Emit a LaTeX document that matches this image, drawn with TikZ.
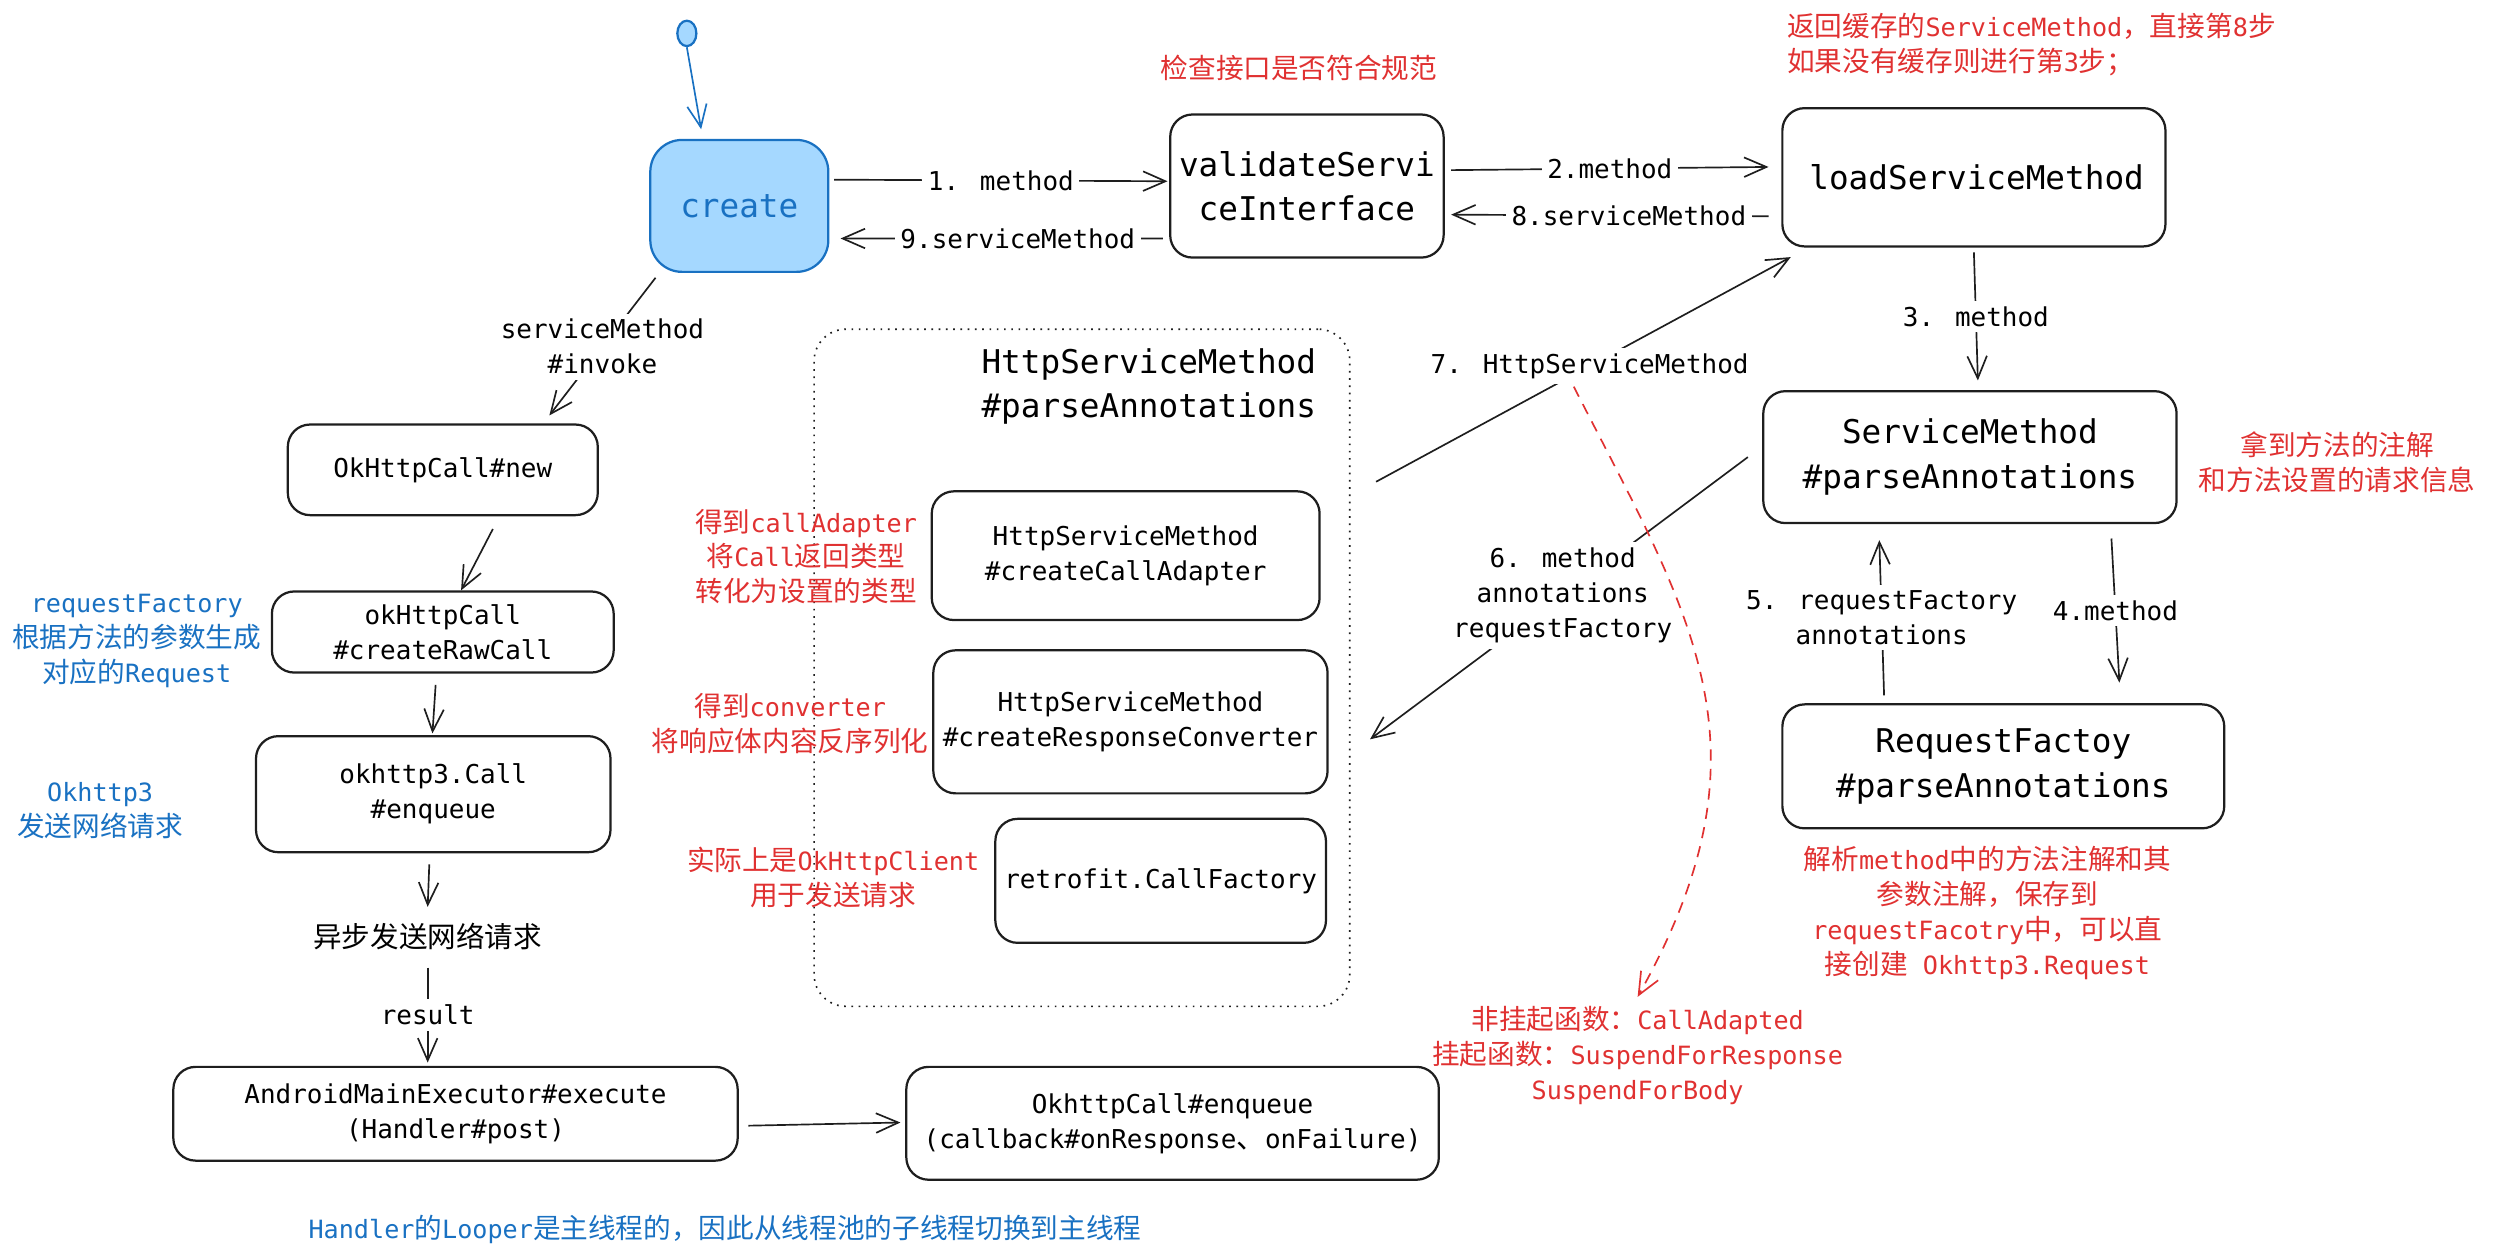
\documentclass[tikz,border=0pt]{standalone}
\usepackage{fontspec}
\setmainfont{DejaVu Sans Mono}
\newfontfamily\cjkfont[Scale=1.1]{Noto Sans CJK SC}
\newcommand\zh[1]{{\cjkfont #1}}
\usetikzlibrary{arrows.meta,calc,shapes.geometric}
\definecolor{inkred}{HTML}{E03131}
\definecolor{inkblue}{HTML}{1971C2}
\definecolor{lightblue}{HTML}{A5D8FF}
\definecolor{ink}{HTML}{1E1E1E}
\begin{document}
\begin{tikzpicture}[x=0.02cm, y=-0.02cm, >={Straight Barb[length=8pt,width=7pt]},
  box/.style={draw=ink, line width=0.8pt, rounded corners=0.28cm, align=center, inner sep=0pt},
  bigtext/.style={font=\fontsize{11.7}{15.9}\selectfont},
  smalltext/.style={font=\fontsize{9.3}{12.5}\selectfont},
  note/.style={font=\fontsize{9}{12.5}\selectfont, align=center, inner sep=1pt},
  link/.style={->, draw=ink, line width=0.6pt},
  tag/.style={smalltext, fill=white, inner sep=2pt, align=center}]
\useasboundingbox (0,0) rectangle (1568,792);

% main chain
\node[ellipse, draw=inkblue, fill=lightblue, line width=0.8pt, minimum width=0.24cm, minimum height=0.32cm, inner sep=0pt] (start) at (432,21) {};
\node[box, draw=inkblue, fill=lightblue, rounded corners=0.4cm, minimum width=2.24cm, minimum height=1.66cm, bigtext, text=inkblue] (create) at (465,129.5) {create};
\node[box, minimum width=3.44cm, minimum height=1.8cm, bigtext] (validate) at (822,117) {validateServi\\ceInterface};
\node[box, minimum width=4.82cm, minimum height=1.74cm, bigtext] (load) at (1241.5,111.5) {\,loadServiceMethod};
\node[box, minimum width=5.2cm, minimum height=1.66cm, bigtext] (svcm) at (1239,287.5) {ServiceMethod\\\#parseAnnotations};
\node[box, minimum width=5.56cm, minimum height=1.56cm, bigtext] (reqf) at (1260,482) {RequestFactoy\\\#parseAnnotations};

% HttpServiceMethod group
\node[draw=ink, dotted, line width=0.6pt, rounded corners=0.4cm, minimum width=6.74cm, minimum height=8.52cm] (group) at (680.5,420) {};
\node[bigtext, anchor=west, align=left, inner sep=0pt] (title) at (617,243) {HttpServiceMethod\\\#parseAnnotations};
\node[box, minimum width=4.88cm, minimum height=1.62cm, smalltext] (adapter) at (708,349.5) {HttpServiceMethod\\\#createCallAdapter};
\node[box, minimum width=4.96cm, minimum height=1.8cm, smalltext] (conv) at (711,454) {HttpServiceMethod\\\#createResponseConverter};
\node[box, minimum width=4.16cm, minimum height=1.56cm, smalltext] (callf) at (730,554) {retrofit.CallFactory};

% left column
\node[box, minimum width=3.9cm, minimum height=1.14cm, smalltext] (okNew) at (278.5,295.5) {OkHttpCall\#new};
\node[box, minimum width=4.3cm, minimum height=1.02cm, smalltext] (rawCall) at (278.5,397.5) {okHttpCall\\\#createRawCall};
\node[box, minimum width=4.46cm, minimum height=1.46cm, smalltext] (enq) at (272.5,499.5) {okhttp3.Call\\\#enqueue};
\node[smalltext] (async) at (269,589) {\zh{异步发送网络请求}};
\node[box, minimum width=7.1cm, minimum height=1.18cm, smalltext] (mainExec) at (286.5,700.5) {AndroidMainExecutor\#execute\\(Handler\#post)};
\node[box, minimum width=6.7cm, minimum height=1.42cm, smalltext] (okEnq) at (737.5,706.5) {OkhttpCall\#enqueue\\(callback\#onResponse\zh{、}onFailure)};

% notes
\node[note, text=inkred] (chk) at (817,43) {\zh{检查接口是否符合规范}};
\node[note, text=inkred, align=left, anchor=west] (cache) at (1122,28) {\zh{返回缓存的}ServiceMethod\zh{，直接第}8\zh{步}\\\zh{如果没有缓存则进行第}3\zh{步；}};
\node[note, text=inkred] (annot) at (1470,290.5) {\zh{拿到方法的注解}\\\zh{和方法设置的请求信息}};
\node[note, text=inkred] (parse) at (1250,574) {\zh{解析}method\zh{中的方法注解和其}\\\zh{参数注解，保存到}\\requestFacotry\zh{中，可以直}\\\zh{接创建} Okhttp3.Request};
\node[note, text=inkred] (suspend) at (1030,664) {\zh{非挂起函数：}CallAdapted\\\zh{挂起函数：}SuspendForResponse\\SuspendForBody};
\node[note, text=inkred] (adaptnote) at (507,350) {\zh{得到}callAdapter\\\zh{将}Call\zh{返回类型}\\\zh{转化为设置的类型}};
\node[note, text=inkred] (convnote) at (497,455) {\zh{得到}converter\\\zh{将响应体内容反序列化}};
\node[note, text=inkred] (clientnote) at (524,552) {\zh{实际上是}OkHttpClient\\\zh{用于发送请求}};
\node[note, text=inkblue] (rfnote) at (86,403) {requestFactory\\\zh{根据方法的参数生成}\\\zh{对应的}Request};
\node[note, text=inkblue] (oknote) at (63,510) {Okhttp3\\\zh{发送网络请求}};
\node[note, text=inkblue] (handlernote) at (456,773) {Handler\zh{的}Looper\zh{是主线程的，因此从线程池的子线程切换到主线程}};

% connectors
\draw[link, draw=inkblue] (start.south) -- ($(create.north)+(-24,-6)$);
\draw[link] ($(create.east)+(3,-16.5)$) -- node[tag] {1. method} ($(validate.west)+(-1,-3)$);
\draw[link] ($(validate.west)+(-4,33)$) -- node[tag, pos=0.45] {9.serviceMethod} ($(create.east)+(7,20.5)$);
\draw[link] ($(validate.east)+(4,-10)$) -- node[tag] {2.method} ($(load.west)+(-8,-6.5)$);
\draw[link] ($(load.west)+(-8,24.5)$) -- node[tag, pos=0.44] {8.serviceMethod} ($(validate.east)+(4,18)$);
\draw[link] ($(load.south)+(0,3)$) -- node[tag] {3. method} ($(svcm.north)+(5,-6)$);
\draw[link] ($(svcm.south)+(89,9)$) -- node[tag] {4.method} ($(reqf.north)+(73,-13)$);
\draw[link] ($(reqf.north)+(-75,-5)$) -- node[tag] {5. requestFactory\\annotations} ($(svcm.south)+(-57,10)$);
\draw[link] ($(svcm.west)+(-9,0)$) -- node[tag, pos=0.49] {6. method\\annotations\\requestFactory} ($(conv.east)+(26,11)$);
\draw[link] ($(group.east)+(16,-117)$) -- node[tag, pos=0.515] (lbl7) {7. HttpServiceMethod} ($(load.south west)+(6,6)$);
\draw[->, draw=inkred, line width=0.6pt, dash pattern=on 4pt off 3pt] ($(lbl7.south)+(-10,1)$) .. controls (1065,390) and (1118,470) .. ($(suspend.north)+(0,-4)$);
\draw[link] ($(create.south west)+(4,3)$) -- node[tag] {serviceMethod\\\#invoke} ($(okNew.north)+(67,-5)$);
\draw[link] ($(okNew.south)+(31.5,8)$) -- ($(rawCall.north)+(11.5,0)$);
\draw[link] ($(rawCall.south)+(-4.5,7)$) -- ($(enq.north)+(-0.5,-1)$);
\draw[link] ($(enq.south)+(-2.5,7)$) -- ($(async.north)+(0,-4)$);
\draw[link] ($(async.south)+(0,5)$) -- node[tag] {result} ($(mainExec.north)+(-17.5,-2)$);
\draw[link] ($(mainExec.east)+(6,7.5)$) -- ($(okEnq.west)+(-3,-0.5)$);
\end{tikzpicture}
\end{document}
